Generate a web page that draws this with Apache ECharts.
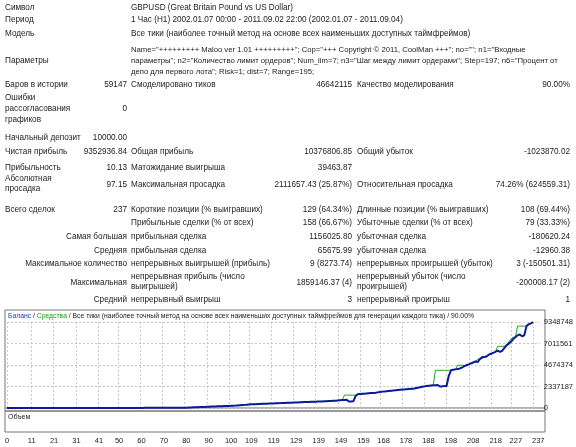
<!DOCTYPE html>
<html><head><meta charset="utf-8">
<script src="https://cdn.jsdelivr.net/npm/echarts@6/dist/echarts.min.js"></script>
<style>
body{margin:0;background:#fff;font-family:"Liberation Sans",sans-serif;font-size:8.2px;color:#222;}
#c{position:absolute;left:0;top:0;width:576px;height:447px;}
.t{position:absolute;white-space:nowrap;line-height:11px;}
.r{text-align:right;}
.p{font-size:7.7px;}
</style></head><body>
<div id="c"></div>
<div id="tbl"></div>
<script>
const categories = [];
for (let i = 0; i <= 240; i++) categories.push(String(i));
const tickLabels = [0,11,21,31,41,50,60,70,80,90,100,109,119,129,139,149,159,168,178,188,198,208,218,227,237];
const yTicks = [0,2337187,4674374,7011561,9348748];
// balance, thousands
const balanceK = [
10,10,10,10,10,10,10,10,10,10, 10,10,10,10,10,10,10,10,10,10,
10,10,10,10,10,10,10,10,10,10, 10,10,10,10,10,10,10,10,10,10,
10,10,10,10,10,10,10,10,10,10, 10,10,10,10,10,10,10,10,10,10,
12,12,14,14,16,16,18,18,20,20, 22,22,24,24,26,26,28,28,30,30,
30,40,50,60,70,80,90,100,110,120, 130,140,150,160,170,180,190,200,210,220,
230,240,250,260,280,300,320,340,360,380, 400,410,420,430,440,450,460,470,480,490,
500,510,520,530,540,550,560,570,580,590, 600,610,620,630,640,650,660,670,680,690,
700,710,720,730,740,750,760,780,800,820, 840,860,880,900,700,700,720,1300,1500,1520,
1540,1560,1580,1600,1620,1640,1660,1700,1740,1780, 1800,1820,1850,1880,1900,1920,1950,1980,2000,2020,
2040,2060,2080,2100,2150,2200,2250,2300,2350,2400, 2420,2440,2460,2480,2500,2350,2350,2380,2400,3500,
4100,4150,4200,4250,4300,4400,4550,4650,4750,4850, 4950,5050,5000,5300,5500,5550,5600,5800,5900,6000,
6100,6250,6100,6200,6500,6800,7000,7200,7500,7700, 7900,8000,7800,7900,8900,9100,9200,9350];
const equityK = [
10,10,10,10,10,10,10,10,10,10, 10,10,10,10,10,10,10,10,10,10,
10,10,10,10,10,10,10,10,10,10, 10,10,10,10,10,10,10,10,10,10,
10,10,10,10,10,10,10,10,10,10, 10,10,10,10,10,10,10,10,10,10,
12,12,14,14,16,16,18,18,20,20, 22,22,24,24,26,26,28,28,30,30,
30,40,50,60,70,80,90,100,110,120, 130,140,150,160,170,180,190,200,210,220,
230,240,250,260,280,300,320,340,360,380, 400,410,420,430,440,450,460,470,480,490,
500,510,520,530,540,550,560,570,580,590, 600,610,620,630,640,650,660,670,680,690,
700,710,720,730,740,750,760,780,800,820, 840,860,1400,1400,1400,1400,1400,1400,1500,1520,
1540,1560,1580,1600,1620,1640,1660,1700,1740,1780, 1800,1820,1850,1880,1900,1920,1950,1980,2000,2020,
2040,2060,2080,2100,2150,2200,2250,2300,2350,2400, 2420,2440,2460,4100,4100,4100,4100,4100,4100,4100,
4100,4150,4200,4650,4650,4650,4600,4650,4750,4850, 4950,5050,5300,5400,5600,5600,5650,5800,5900,6000,
6100,6700,6700,6700,6700,6900,7200,7500,7700,7700, 8900,8900,8900,8900,8950,9100,9200,9350];

const L = (y,x,t,cls)=>({y,x,t,cls});
const items = [
L(2,5,'Символ'),L(2,131,'GBPUSD (Great Britain Pound vs US Dollar)'),
L(14,5,'Период'),L(14,131,'1 Час (H1) 2002.01.07 00:00 - 2011.09.02 22:00 (2002.01.07 - 2011.09.04)'),
L(28,5,'Модель'),L(28,131,'Все тики (наиболее точный метод на основе всех наименьших доступных таймфреймов)'),
L(55,5,'Параметры'),
L(44,131,'Name="+++++++++ Maloo ver 1.01 +++++++++"; Cop="+++ Copyright © 2011, CoolMan +++"; no=""; n1="Входные','p'),
L(55,131,'параметры"; n2="Количество лимит ордеров"; Num_lim=7; n3="Шаг между лимит ордерами"; Step=197; n6="Процент от','p'),
L(66,131,'депо для первого лота"; Risk=1; dist=7; Range=195;','p'),
L(79,5,'Баров в истории'),L(79,127,'59147','r'),L(79,131,'Смоделировано тиков'),L(79,352,'46642115','r'),L(79,357,'Качество моделирования'),L(79,570,'90.00%','r'),
L(92,5,'Ошибки'),L(103,5,'рассогласования'),L(114,5,'графиков'),L(103,127,'0','r'),
L(132,5,'Начальный депозит'),L(132,127,'10000.00','r'),
L(146,5,'Чистая прибыль'),L(146,127,'9352936.84','r'),L(146,131,'Общая прибыль'),L(146,352,'10376806.85','r'),L(146,357,'Общий убыток'),L(146,570,'-1023870.02','r'),
L(162,5,'Прибыльность'),L(162,127,'10.13','r'),L(162,131,'Матожидание выигрыша'),L(162,352,'39463.87','r'),
L(173,5,'Абсолютная'),L(183,5,'просадка'),L(179,127,'97.15','r'),L(179,131,'Максимальная просадка'),L(179,352,'2111657.43 (25.87%)','r'),L(179,357,'Относительная просадка'),L(179,570,'74.26% (624559.31)','r'),
L(204,5,'Всего сделок'),L(204,127,'237','r'),L(204,131,'Короткие позиции (% выигравших)'),L(204,352,'129 (64.34%)','r'),L(204,357,'Длинные позиции (% выигравших)'),L(204,570,'108 (69.44%)','r'),
L(217,131,'Прибыльные сделки (% от всех)'),L(217,352,'158 (66.67%)','r'),L(217,357,'Убыточные сделки (% от всех)'),L(217,570,'79 (33.33%)','r'),
L(231,127,'Самая большая','r'),L(231,131,'прибыльная сделка'),L(231,352,'1156025.80','r'),L(231,357,'убыточная сделка'),L(231,570,'-180620.24','r'),
L(245,127,'Средняя','r'),L(245,131,'прибыльная сделка'),L(245,352,'65675.99','r'),L(245,357,'убыточная сделка'),L(245,570,'-12960.38','r'),
L(258,127,'Максимальное количество','r'),L(258,131,'непрерывных выигрышей (прибыль)'),L(258,352,'9 (8273.74)','r'),L(258,357,'непрерывных проигрышей (убыток)'),L(258,570,'3 (-150501.31)','r'),
L(277,127,'Максимальная','r'),L(271,131,'непрерывная прибыль (число'),L(281,131,'выигрышей)'),L(277,352,'1859146.37 (4)','r'),L(271,357,'непрерывный убыток (число'),L(281,357,'проигрышей)'),L(277,570,'-200008.17 (2)','r'),
L(294,127,'Средний','r'),L(294,131,'непрерывный выигрыш'),L(294,352,'3','r'),L(294,357,'непрерывный проигрыш'),L(294,570,'1','r')
];
const tbl = document.getElementById('tbl');
items.forEach(it=>{
  const d=document.createElement('div');
  d.className='t'+(it.cls?' '+it.cls:'');
  d.textContent=it.t;
  d.style.top=it.y+'px';
  if(it.cls==='r'){d.style.right=(576-it.x)+'px';} else d.style.left=it.x+'px';
  tbl.appendChild(d);
});

const chart = echarts.init(document.getElementById('c'));
const tickSet = new Set(tickLabels);
const showTick = (i)=>tickSet.has(i);
chart.setOption({
  animation:false,
  grid:[{left:7,right:31,top:322,height:86},{left:7,right:31,top:411,height:21}],
  xAxis:[
    {type:'category',gridIndex:0,data:categories,boundaryGap:false,axisLabel:{show:false},axisTick:{show:false},axisLine:{show:false},
     splitLine:{show:true,interval:showTick,lineStyle:{color:'#c8c8c8',type:[2,2],width:1}}},
    {type:'category',gridIndex:1,data:categories,boundaryGap:false,axisTick:{show:false},axisLine:{show:false},
     axisLabel:{interval:showTick,fontSize:7.5,color:'#222',margin:5,fontFamily:'Liberation Sans'},splitLine:{show:false}}
  ],
  yAxis:[
    {type:'value',gridIndex:0,position:'right',min:0,max:9348748,interval:2337187,
     axisLabel:{fontSize:7.5,color:'#222',margin:4,fontFamily:'Liberation Sans',formatter:v=>String(v)},
     axisLine:{show:false},axisTick:{show:false},splitLine:{lineStyle:{color:'#c8c8c8',type:[2,2]}}},
    {type:'value',gridIndex:1,show:false}
  ],
  graphic:[
    {type:'rect',shape:{x:5,y:310,width:540,height:101},style:{fill:'none',stroke:'#777',lineWidth:1},z:0},
    {type:'rect',shape:{x:5,y:411,width:540,height:21},style:{fill:'none',stroke:'#777',lineWidth:1},z:0},
    {type:'line',shape:{x1:5,y1:408,x2:545,y2:408},style:{stroke:'#666',lineWidth:1}},
    {type:'text',left:8,top:313,style:{text:'{b|Баланс} / {g|Средства} / Все тики (наиболее точный метод на основе всех наименьших доступных таймфреймов для генерации каждого тика) / 90.00%',
      fontSize:6.8,fontFamily:'Liberation Sans',fill:'#222',rich:{b:{fill:'#1a3ea8',fontSize:6.8},g:{fill:'#1a9a1a',fontSize:6.8}}}},
    {type:'text',left:8,top:414,style:{text:'Объем',fontSize:7,fontFamily:'Liberation Sans',fill:'#222'}}
  ],
  series:[
    {type:'line',xAxisIndex:0,yAxisIndex:0,data:equityK.map(v=>v*1000),symbol:'none',lineStyle:{color:'#22a022',width:1}},
    {type:'line',xAxisIndex:0,yAxisIndex:0,data:balanceK.map(v=>v*1000),symbol:'none',lineStyle:{color:'#0a1a9a',width:2}}
  ]
});
</script></body></html>
